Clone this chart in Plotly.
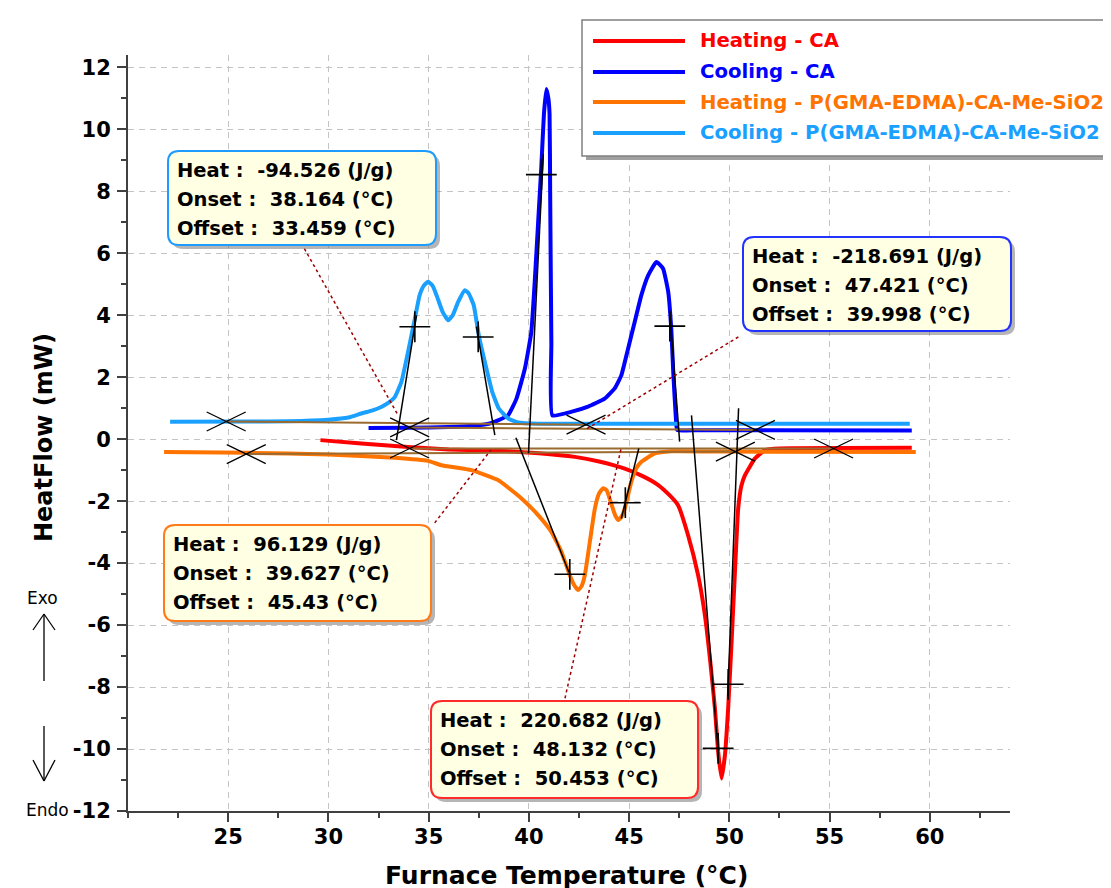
import plotly.graph_objects as go

# ---------------- data ----------------
series_names = ["Heating - CA", "Cooling - CA",
                "Heating - P(GMA-EDMA)-CA-Me-SiO2", "Cooling - P(GMA-EDMA)-CA-Me-SiO2"]

heat_ca_x = [29.6, 31.64, 33.97, 36.0, 38.96, 40.5, 42.29, 43.5, 44.78, 45.7, 46.45, 47.0, 47.44,
             47.94, 48.44, 48.78, 49.03, 49.28, 49.44, 49.61, 49.78, 49.94, 50.11, 50.27, 50.44,
             50.6, 50.78, 51.28, 51.78, 52.5, 59.1]
heat_ca_y = [-0.03, -0.14, -0.25, -0.33, -0.39, -0.45, -0.57, -0.72, -0.95, -1.2, -1.48, -1.8, -2.13,
             -3.1, -4.39, -5.68, -7.07, -8.69, -10.08, -10.95, -10.19, -8.69, -6.54, -4.39, -2.24,
             -1.5, -1.16, -0.62, -0.35, -0.3, -0.28]

cool_ca_x = [32.0, 34.0, 36.0, 37.5, 38.0, 38.46, 38.96, 39.38, 39.8, 40.12, 40.29, 40.46, 40.62,
             40.75, 40.87, 40.97, 41.03, 41.06, 41.12, 41.17, 42.1, 42.95, 43.78, 44.28, 44.61,
             44.95, 45.28, 45.61, 45.95, 46.36, 46.69, 46.95, 47.11, 47.2, 47.33, 47.4, 48.5, 59.1]
cool_ca_y = [0.36, 0.37, 0.39, 0.45, 0.5, 0.61, 0.77, 1.31, 2.28, 3.46, 5.08, 7.0, 8.8,
             10.5, 11.3, 11.0, 10.5, 8.0, 3.1, 0.77, 0.88, 1.05, 1.31, 1.64, 2.06,
             2.93, 3.79, 4.65, 5.29, 5.72, 5.51, 4.75, 3.46, 2.17, 0.7, 0.3, 0.29, 0.28]

heat_p_x = [21.8, 26.0, 30.0, 33.3, 34.97, 35.63, 37.13, 38.46, 39.63, 40.46, 41.12, 41.62, 42.04,
            42.25, 42.45, 42.62, 42.79, 43.04, 43.29, 43.5, 43.7, 43.88, 44.13, 44.3, 44.46, 44.62,
            44.78, 45.11, 45.35, 45.61, 46.28, 47.11, 50.0, 59.3]
heat_p_y = [-0.41, -0.44, -0.49, -0.6, -0.7, -0.84, -1.0, -1.32, -1.91, -2.45, -2.99, -3.63, -4.39,
            -4.7, -4.87, -4.75, -4.39, -3.31, -2.24, -1.75, -1.58, -1.65, -2.13, -2.45, -2.61, -2.5,
            -2.24, -1.37, -0.95, -0.73, -0.46, -0.39, -0.4, -0.41]

cool_p_x = [22.1, 26.0, 28.0, 30.0, 31.0, 31.64, 32.2, 32.63, 33.0, 33.3, 33.64, 33.97, 34.31, 34.55,
            34.75, 34.97, 35.2, 35.39, 35.7, 35.97, 36.2, 36.47, 36.8, 37.0, 37.25, 37.5, 37.84,
            38.17, 38.5, 38.96, 39.46, 40.5, 59.0]
cool_p_y = [0.56, 0.57, 0.58, 0.63, 0.7, 0.83, 0.93, 1.04, 1.18, 1.35, 1.85, 2.82, 3.89, 4.65,
            4.95, 5.08, 4.95, 4.65, 4.1, 3.84, 4.0, 4.43, 4.81, 4.7, 4.32, 3.35, 2.39,
            1.53, 0.99, 0.67, 0.54, 0.5, 0.5]

# integration limits (X marks) and tangent points (+ marks)
limit_x = [24.9, 25.9, 34.05, 34.05, 42.85, 50.3, 51.3, 55.2]
limit_y = [0.57, -0.48, 0.38, -0.3, 0.47, -0.4, 0.3, -0.3]
tangent_pt_x = [34.31, 37.47, 40.62, 47.03, 42.04, 44.81, 49.94, 49.44]
tangent_pt_y = [3.63, 3.30, 8.54, 3.65, -4.36, -2.05, -7.91, -9.98]

# baselines (cooling P, cooling CA, heating P, heating CA)
base_x0 = [24.9, 34.05, 25.9, 34.05]
base_y0 = [0.57, 0.38, -0.48, -0.3]
base_x1 = [42.85, 51.3, 50.3, 55.2]
base_y1 = [0.47, 0.3, -0.4, -0.3]

# tangent lines
tan_x0 = [34.39, 37.38, 40.72, 47.03, 39.35, 44.61, 48.11, 50.46]
tan_y0 = [4.0, 3.63, 9.2, 4.1, 0.05, -2.56, 0.77, 1.0]
tan_x1 = [33.39, 38.3, 39.98, 47.52, 42.0, 45.48, 49.44, 49.92]
tan_y1 = [-0.03, 0.13, -0.45, -0.08, -4.3, -0.3, -10.08, -8.3]

# leader lines from result boxes to peaks
lead_x0 = [28.8, 50.45, 35.3, 41.8]
lead_y0 = [6.15, 3.3, -2.7, -8.36]
lead_x1 = [33.45, 42.8, 38.1, 44.6]
lead_y1 = [0.8, 0.3, -0.35, -0.3]

# result boxes: cooling P, cooling CA, heating P, heating CA
box_heat = ["-94.526", "-218.691", "96.129", "220.682"]
box_onset = ["38.164", "47.421", "39.627", "48.132"]
box_offset = ["33.459", "39.998", "45.43", "50.453"]

x_tick_vals = [25, 30, 35, 40, 45, 50, 55, 60]
y_tick_vals = [-12, -10, -8, -6, -4, -2, 0, 2, 4, 6, 8, 10, 12]
y_tick_text = ["-12", "-10", "-8", "-6", "-4", "-2", "0", "2", "4", "6", "8", "10", "12"]

# ---------------- styling / layout ----------------
W, H = 1111, 888
PL, PT, PR, PB = 120, 47, 1002, 803
X_RANGE = [20, 64]
Y_RANGE = [-12, 12.4]
PXX = (PR - PL) / (X_RANGE[1] - X_RANGE[0])
PXY = (PB - PT) / (Y_RANGE[1] - Y_RANGE[0])

colors = ["#FF0000", "#0000FF", "#FF7300", "#1AA0FF"]
box_colors = ["#1E9BFF", "#2233FF", "#FF7A1A", "#FF2A2A"]
FONT = "DejaVu Sans"


def fx(p):
    return (p - PL) / (PR - PL)


def fy(p):
    return (PB - p) / (PB - PT)


def rrect(x0, y0, x1, y1, r):
    pts = [("M", [(x0 + r, y0)]), ("L", [(x1 - r, y0)]), ("Q", [(x1, y0), (x1, y0 + r)]),
           ("L", [(x1, y1 - r)]), ("Q", [(x1, y1), (x1 - r, y1)]), ("L", [(x0 + r, y1)]),
           ("Q", [(x0, y1), (x0, y1 - r)]), ("L", [(x0, y0 + r)]), ("Q", [(x0, y0), (x0 + r, y0)])]
    s = ""
    for cmd, ps in pts:
        s += cmd + " ".join(f"{fx(a):.5f},{fy(b):.5f}" for a, b in ps) + " "
    return s + "Z"


def segs(x0, y0, x1, y1):
    xs, ys = [], []
    for a, b, c, d in zip(x0, y0, x1, y1):
        xs += [a, c, None]
        ys += [b, d, None]
    return xs, ys


def label(xp, yp, text, size, color="black", angle=0):
    return dict(xref="paper", yref="paper", x=fx(xp), y=fy(yp), xanchor="center", yanchor="middle",
                showarrow=False, text=text, textangle=angle,
                font=dict(family=FONT, size=size, color=color))


fig = go.Figure()

curves = [(heat_ca_x, heat_ca_y), (cool_ca_x, cool_ca_y), (heat_p_x, heat_p_y), (cool_p_x, cool_p_y)]
for (cx, cy), col, nm in zip(curves, colors, series_names):
    fig.add_trace(go.Scatter(x=cx, y=cy, mode="lines", name=nm, showlegend=False,
                             line=dict(color=col, width=4, shape="spline", smoothing=0.4),
                             hoverinfo="skip"))

bx, by = segs(base_x0, base_y0, base_x1, base_y1)
fig.add_trace(go.Scatter(x=bx, y=by, mode="lines", showlegend=False,
                         line=dict(color="#9A6A2E", width=2), hoverinfo="skip"))

tx, ty = segs(tan_x0, tan_y0, tan_x1, tan_y1)
fig.add_trace(go.Scatter(x=tx, y=ty, mode="lines", showlegend=False,
                         line=dict(color="black", width=1.5), hoverinfo="skip"))

# X marks (flattened crosses)
XHW, XHH = 19.5 / PXX, 9.5 / PXY
xm_x0 = [v - XHW for v in limit_x] + [v - XHW for v in limit_x]
xm_y0 = [v + XHH for v in limit_y] + [v - XHH for v in limit_y]
xm_x1 = [v + XHW for v in limit_x] + [v + XHW for v in limit_x]
xm_y1 = [v - XHH for v in limit_y] + [v + XHH for v in limit_y]
mx, my = segs(xm_x0, xm_y0, xm_x1, xm_y1)
fig.add_trace(go.Scatter(x=mx, y=my, mode="lines", showlegend=False,
                         line=dict(color="black", width=1.3), hoverinfo="skip"))

fig.add_trace(go.Scatter(x=tangent_pt_x, y=tangent_pt_y, mode="markers", showlegend=False,
                         marker=dict(symbol="cross-thin", size=22, line=dict(color="black", width=1.6)),
                         hoverinfo="skip"))

lx, ly = segs(lead_x0, lead_y0, lead_x1, lead_y1)
fig.add_trace(go.Scatter(x=lx, y=ly, mode="lines", showlegend=False,
                         line=dict(color="#A00000", width=1.5, dash="dot"), hoverinfo="skip"))

shapes = []
annotations = []

# result boxes (pixel geometry)
box_geom = [(160, 143, 428, 237), (735, 229, 1003, 323), (156, 517, 423, 613), (423, 693, 690, 790)]
row_off = [19, 48, 77]
for i, (x0, y0, x1, y1) in enumerate(box_geom):
    shapes.append(dict(type="path", xref="paper", yref="paper", layer="above",
                       path=rrect(x0 + 4, y0 + 4, x1 + 4, y1 + 4, 11),
                       fillcolor="rgba(120,120,120,0.55)", line=dict(width=0)))
    shapes.append(dict(type="path", xref="paper", yref="paper", layer="above",
                       path=rrect(x0, y0, x1, y1, 11),
                       fillcolor="#FFFFE3", line=dict(color=box_colors[i], width=2)))
    rows = [f"<b>Heat :\u00a0 {box_heat[i]} (J/g)</b>",
            f"<b>Onset :\u00a0 {box_onset[i]} (°C)</b>",
            f"<b>Offset :\u00a0 {box_offset[i]} (°C)</b>"]
    for r, t in zip(row_off, rows):
        annotations.append(dict(xref="paper", yref="paper", x=fx(x0 + 7), y=fy(y0 + r),
                                xanchor="left", yanchor="middle", showarrow=False, text=t,
                                font=dict(family=FONT, size=19.5, color="black")))

# legend
LG = (574, 12, 1118, 148)
shapes.append(dict(type="rect", xref="paper", yref="paper", layer="above",
                   x0=fx(LG[0] + 4), x1=fx(LG[2] + 4), y0=fy(LG[1] + 4), y1=fy(LG[3] + 4),
                   fillcolor="#A0A0A0", line=dict(width=0)))
shapes.append(dict(type="rect", xref="paper", yref="paper", layer="above",
                   x0=fx(LG[0]), x1=fx(LG[2]), y0=fy(LG[1]), y1=fy(LG[3]),
                   fillcolor="white", line=dict(color="#808080", width=1.5)))
leg_rows = [33, 64, 94, 125]
for nm, col, ry in zip(series_names, colors, leg_rows):
    shapes.append(dict(type="line", xref="paper", yref="paper", layer="above",
                       x0=fx(585), x1=fx(677), y0=fy(ry), y1=fy(ry), line=dict(color=col, width=4)))
    annotations.append(dict(xref="paper", yref="paper", x=fx(690), y=fy(ry), xanchor="left",
                            yanchor="middle", showarrow=False, text=f"<b>{nm}</b>",
                            font=dict(family=FONT, size=19.7, color=col)))

# Exo / Endo arrows
AX = 36
arrow_paths = [((AX, 606), (AX, 673)), ((AX - 11, 622), (AX, 606)), ((AX, 606), (AX + 11, 622)),
               ((AX, 718), (AX, 773)), ((AX - 11, 752), (AX, 773)), ((AX, 773), (AX + 11, 752))]
for (a, b), (c, d) in arrow_paths:
    shapes.append(dict(type="line", xref="paper", yref="paper", x0=fx(a), y0=fy(b), x1=fx(c), y1=fy(d),
                       line=dict(color="black", width=1.3)))
annotations.append(label(34, 590, "Exo", 17))
annotations.append(label(39, 802, "Endo", 17))

# axis titles
annotations.append(label(558, 867, "<b>Furnace Temperature (°C)</b>", 25))
annotations.append(label(36, 430, "<b>HeatFlow (mW)</b>", 24, angle=-90))

axis_common = dict(showline=True, linecolor="#404040", linewidth=2, ticks="outside", ticklen=9,
                   tickwidth=1.5, tickcolor="#404040", showgrid=True, gridcolor="#C4C4C4",
                   griddash="6px,5px", gridwidth=1, zeroline=False, mirror=False,
                   tickfont=dict(family=FONT, size=21, color="black", weight="bold"))

fig.update_layout(
    width=W, height=H, paper_bgcolor="white", plot_bgcolor="white",
    margin=dict(l=PL, r=W - PR, t=PT, b=H - PB),
    xaxis=dict(range=X_RANGE, tickvals=x_tick_vals, ticktext=[str(v) for v in x_tick_vals],
               minor=dict(dtick=2.5, tick0=20, ticks="outside", ticklen=5, tickcolor="#404040",
                          showgrid=False),
               ticklabelstandoff=-3, **axis_common),
    yaxis=dict(range=Y_RANGE, tickvals=y_tick_vals, ticktext=y_tick_text,
               minor=dict(dtick=1, tick0=0, ticks="outside", ticklen=5, tickcolor="#404040",
                          showgrid=False),
               ticklabelstandoff=2, **axis_common),
    shapes=shapes, annotations=annotations, showlegend=False,
)

fig.write_html("out.html")
